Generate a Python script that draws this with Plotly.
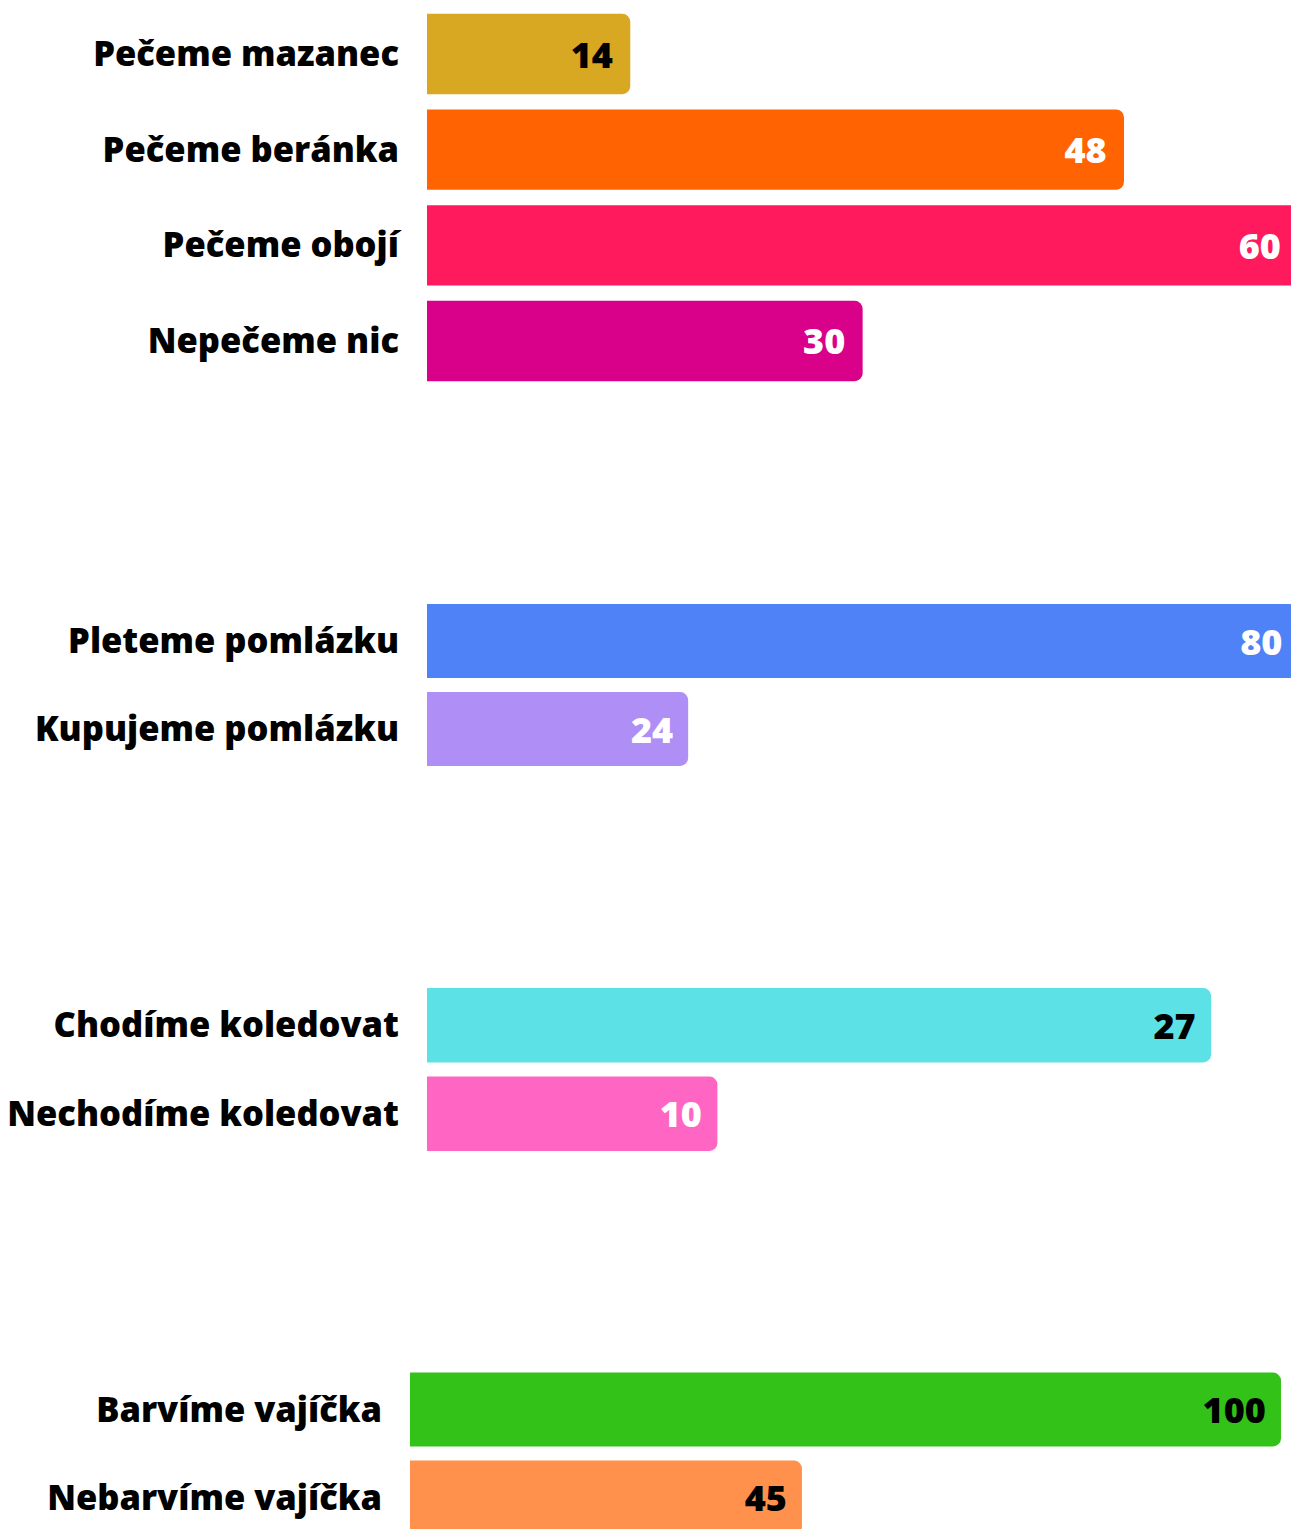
import plotly.graph_objects as go

# Group 1: baking
g1_labels = ["Pečeme mazanec", "Pečeme beránka", "Pečeme obojí", "Nepečeme nic"]
g1_values = [14, 48, 60, 30]
g1_colors = ["#D9A823", "#FF6302", "#FF1A5E", "#D9008A"]
g1_text = ["black", "white", "white", "white"]

# Group 2: pomlázka
g2_labels = ["Pleteme pomlázku", "Kupujeme pomlázku"]
g2_values = [80, 24]
g2_colors = ["#4F82F7", "#AF8EF5"]
g2_text = ["white", "white"]

# Group 3: koledování
g3_labels = ["Chodíme koledovat", "Nechodíme koledovat"]
g3_values = [27, 10]
g3_colors = ["#5CE1E6", "#FF66C4"]
g3_text = ["black", "white"]

# Group 4: vajíčka
g4_labels = ["Barvíme vajíčka", "Nebarvíme vajíčka"]
g4_values = [100, 45]
g4_colors = ["#33C217", "#FF914D"]
g4_text = ["black", "black"]

W, H = 1291, 1529
FONT = "Open Sans"

groups = [
    (g1_labels, g1_values, g1_colors, g1_text),
    (g2_labels, g2_values, g2_colors, g2_text),
    (g3_labels, g3_values, g3_colors, g3_text),
    (g4_labels, g4_values, g4_colors, g4_text),
]
# pixel layout: (top px, bottom px, left px, x range max, y range bottom)
geo = [
    (6.2, 388.8, 427, 59.5, 3.5),
    (597, 773, 427, 79.4, 1.5),
    (981, 1158, 427, 29.75, 1.5),
    (1365.5, 1529, 410, 101.15, -0.5 + (1529 - 1365.5) / 88),
]

fig = go.Figure()
layout = {}
for i, ((labels, vals, cols, tcols), (top, bot, left, xmax, ybot)) in enumerate(zip(groups, geo), start=1):
    xa = "x" if i == 1 else f"x{i}"
    ya = "y" if i == 1 else f"y{i}"
    fig.add_trace(go.Bar(
        x=vals, y=labels, orientation="h",
        marker=dict(color=cols, line=dict(width=0)),
        text=[f"{v} " for v in vals], textposition="inside", insidetextanchor="end",
        textfont=dict(family=FONT, size=36, color=tcols, weight=800),
        cliponaxis=True, xaxis=xa, yaxis=ya, showlegend=False, hoverinfo="skip",
    ))
    xk = "xaxis" if i == 1 else f"xaxis{i}"
    yk = "yaxis" if i == 1 else f"yaxis{i}"
    layout[xk] = dict(domain=[left / W, 1], range=[0, xmax], visible=False,
                      anchor=ya, fixedrange=True)
    layout[yk] = dict(domain=[1 - bot / H, 1 - top / H], range=[ybot, -0.5],
                      anchor=xa, showgrid=False, zeroline=False, showline=False,
                      ticks="", automargin=False, ticklabelstandoff=27,
                      tickfont=dict(family=FONT, size=34.5, color="black", weight=800),
                      type="category", categoryorder="array", categoryarray=labels)

fig.update_layout(
    width=W, height=H, margin=dict(l=0, r=0, t=0, b=0),
    paper_bgcolor="white", plot_bgcolor="white",
    bargap=0.16, barcornerradius=8,
    uniformtext=dict(mode=None),
    **layout,
)
fig.write_html("out.html", config={"displayModeBar": False})
